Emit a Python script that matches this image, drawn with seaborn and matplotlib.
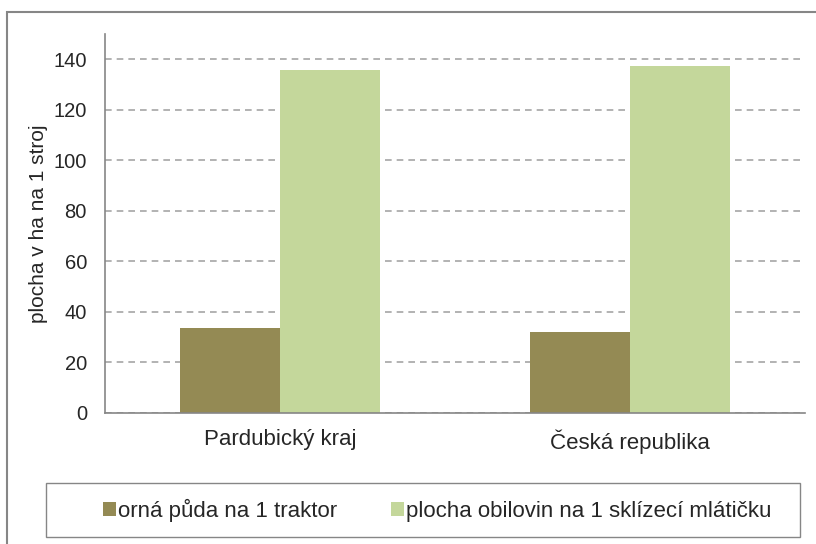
# --- Importing the requirements --- #
import numpy as np
import pandas as pd
import matplotlib
matplotlib.use("Agg")
import matplotlib.pyplot as plt
from matplotlib.patches import Rectangle
import seaborn as sns

# --- DATA --- #
categories = ["Pardubický kraj", "Česká republika"]
series_names = ["orná půda na 1 traktor", "plocha obilovin na 1 sklízecí mlátičku"]
traktor = [33.7, 32.1]
mlaticka = [135.9, 137.5]
colors = ["#948A54", "#C4D79B"]
y_ticks = [0, 20, 40, 60, 80, 100, 120, 140]

df = pd.DataFrame({
    "kraj": categories * 2,
    "serie": [series_names[0]] * 2 + [series_names[1]] * 2,
    "hodnota": traktor + mlaticka,
})

# --- STYLE --- #
sns.set_style("white")
plt.rcParams["font.family"] = ["Liberation Sans", "DejaVu Sans"]
axis_grey = "#868686"

fig = plt.figure(figsize=(8.16, 5.44), dpi=100)
ax = fig.add_axes([105 / 816, 1 - 412.7 / 544, 700 / 816, (412.7 - 34) / 544])

# --- BARS --- #
sns.barplot(data=df, x="kraj", y="hodnota", hue="serie", palette=colors,
            width=0.571, gap=0, saturation=1, ax=ax, legend=True, edgecolor="none")

# --- AXES --- #
ax.set_xlim(-0.5, 1.5)
ax.set_ylim(0, 150)
ax.set_yticks(y_ticks)
ax.set_xlabel("")
ax.set_ylabel("plocha v ha na 1 stroj", fontsize=15, labelpad=4)
ax.tick_params(axis="y", labelsize=14.5, length=5, color=axis_grey, width=1, pad=8)
ax.tick_params(axis="x", which="major", labelsize=16, length=0, pad=12)
ax.set_xticks([-0.5, 0.5, 1.5], minor=True)
ax.tick_params(axis="x", which="minor", length=5, color=axis_grey, width=1)

for side in ["top", "right"]:
    ax.spines[side].set_visible(False)
for side in ["left", "bottom"]:
    ax.spines[side].set_color(axis_grey)
    ax.spines[side].set_linewidth(1.2)

ax.yaxis.grid(True, linestyle=(0, (4, 3)), color="#A6A6A6", linewidth=1.2)
ax.set_axisbelow(True)

# --- LEGEND --- #
handles, labels = ax.get_legend_handles_labels()
ax.get_legend().remove()
fig.legend(handles, labels, loc="center", bbox_to_anchor=(437 / 816, 1 - 510 / 544),
           ncol=2, frameon=False, fontsize=16, handlelength=0.6, handleheight=0.6,
           handletextpad=0.1, columnspacing=2.4)

# --- BORDERS --- #
fig.patches.append(Rectangle((46 / 816, 1 - 537 / 544), 754 / 816, 54 / 544,
                             transform=fig.transFigure, fill=False,
                             edgecolor=axis_grey, linewidth=1))
fig.patches.append(Rectangle((7 / 816, -0.05), 1.2, 1 - 12 / 544 + 0.05,
                             transform=fig.transFigure, fill=False,
                             edgecolor=axis_grey, linewidth=1.5))

fig.savefig("out.png", dpi=100)
